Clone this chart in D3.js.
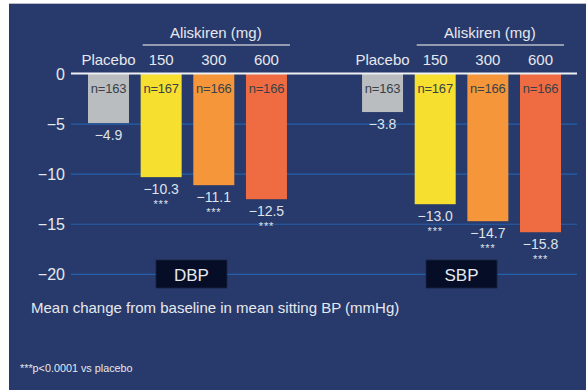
<!DOCTYPE html>
<html>
<head>
<meta charset="utf-8">
<script src="https://cdn.jsdelivr.net/npm/d3@7"></script>
<style>
  html, body { margin: 0; padding: 0; background: #ffffff; }
  svg { display: block; font-family: "Liberation Sans", Arial, sans-serif; }
</style>
</head>
<body>
<svg id="chart" width="586" height="390"></svg>
<script>
// Mean change from baseline in mean sitting blood pressure by treatment arm
const measures = ["DBP", "SBP"];
const arms = ["Placebo", "150", "300", "600"];
const dbpValues = [-4.9, -10.3, -11.1, -12.5];
const sbpValues = [-3.8, -13.0, -14.7, -15.8];
const sampleSizes = ["n=163", "n=167", "n=166", "n=166"];
const significance = ["", "***", "***", "***"];
const yTicks = [0, -5, -10, -15, -20];
const armColors = ["#b9bdbf", "#f7df2f", "#f5963b", "#ef6c42"];

const rows = [];
measures.forEach((m, mi) => {
  const vals = mi === 0 ? dbpValues : sbpValues;
  arms.forEach((a, ai) => rows.push({ measure: m, arm: a, value: vals[ai], n: sampleSizes[ai], sig: significance[ai], color: armColors[ai] }));
});

const svg = d3.select("#chart");

// Panel background
svg.append("rect").attr("x", 9).attr("y", 3).attr("width", 577).attr("height", 387).attr("fill", "#283a6b");
svg.append("line").attr("x1", 9).attr("x2", 586).attr("y1", 3.5).attr("y2", 3.5).attr("stroke", "#b8bcc6").attr("stroke-width", 1);

const y = d3.scaleLinear().domain([0, -20]).range([74, 274.3]);

const xGroup = d3.scaleBand().domain(measures).range([88, 561]).paddingInner(0.274).paddingOuter(0);
const xArm = d3.scaleBand().domain(arms).range([0, xGroup.bandwidth()]).paddingInner(0.2215).paddingOuter(0);

const gridX0 = 71, gridX1 = 577;

// Gridlines
svg.append("g").selectAll("line").data(yTicks.filter(t => t !== 0)).join("line")
  .attr("x1", gridX0).attr("x2", gridX1)
  .attr("y1", d => y(d)).attr("y2", d => y(d))
  .attr("stroke", "#2560ab").attr("stroke-width", 1.2);

// Y axis tick labels
const yAxis = d3.axisLeft(y).tickValues(yTicks).tickSize(0).tickPadding(0)
  .tickFormat(d => d === 0 ? "0" : "\u2212" + Math.abs(d));
const yg = svg.append("g").attr("transform", "translate(65,0)").call(yAxis);
yg.select(".domain").remove();
yg.selectAll("text").attr("fill", "#e6e8ee").style("font-size", "16px").style("font-family", "'Liberation Sans', Arial, sans-serif");

// Bars
const barG = svg.append("g");
barG.selectAll("rect").data(rows).join("rect")
  .attr("x", d => xGroup(d.measure) + xArm(d.arm))
  .attr("y", y(0))
  .attr("width", xArm.bandwidth())
  .attr("height", d => y(d.value) - y(0))
  .attr("fill", d => d.color);

// Zero line
svg.append("line").attr("x1", gridX0).attr("x2", gridX1).attr("y1", y(0) - 0.5).attr("y2", y(0) - 0.5)
  .attr("stroke", "#eef0f4").attr("stroke-width", 2);

const cx = d => xGroup(d.measure) + xArm(d.arm) + xArm.bandwidth() / 2;

// Sample size labels inside the bars
svg.append("g").selectAll("text").data(rows).join("text")
  .attr("x", cx).attr("y", y(0) + 19)
  .attr("text-anchor", "middle").attr("fill", "#3a3f48")
  .style("font-size", "13px").style("letter-spacing", "-0.2px")
  .text(d => d.n);

// Value labels under the bars
svg.append("g").selectAll("text").data(rows).join("text")
  .attr("x", cx).attr("y", d => y(d.value) + 17)
  .attr("text-anchor", "middle").attr("fill", "#dfe2ea")
  .style("font-size", "14px")
  .text(d => "\u2212" + Math.abs(d.value).toFixed(1));

// Significance markers
svg.append("g").selectAll("text").data(rows.filter(d => d.sig)).join("text")
  .attr("x", cx).attr("y", d => y(d.value) + 31)
  .attr("text-anchor", "middle").attr("fill", "#dfe2ea")
  .style("font-size", "11px").style("letter-spacing", "0.8px")
  .text(d => d.sig);

// Arm headers
svg.append("g").selectAll("text").data(rows).join("text")
  .attr("x", cx).attr("y", 65)
  .attr("text-anchor", "middle").attr("fill", "#e6e8ee")
  .style("font-size", "15px")
  .text(d => d.arm);

// "Aliskiren (mg)" header bracket over the active doses
measures.forEach(m => {
  const x0 = xGroup(m) + xArm("150");
  const x1 = xGroup(m) + xArm("600") + xArm.bandwidth();
  svg.append("line").attr("x1", x0 + 2).attr("x2", x1 + 3).attr("y1", 45).attr("y2", 45)
    .attr("stroke", "#b8bcc8").attr("stroke-width", 1.3);
  svg.append("text").attr("x", (x0 + x1) / 2 + 2).attr("y", 38)
    .attr("text-anchor", "middle").attr("fill", "#e6e8ee").style("font-size", "15px")
    .text("Aliskiren (mg)");
});

// Measure tags
measures.forEach(m => {
  const c = xGroup(m) + xGroup.bandwidth() / 2 + (m === "DBP" ? 4 : 0);
  svg.append("rect").attr("x", c - 35.5).attr("y", 260).attr("width", 71).attr("height", 28)
    .attr("fill", "#050d27").attr("stroke", "#1b2540").attr("stroke-width", 0.8);
  svg.append("text").attr("x", c).attr("y", 280.5)
    .attr("text-anchor", "middle").attr("fill", "#e6e8ee").style("font-size", "17px")
    .text(m);
});

// Axis caption and footnote
svg.append("text").attr("x", 31).attr("y", 313).attr("fill", "#e6e8ee").style("font-size", "15px")
  .text("Mean change from baseline in mean sitting BP (mmHg)");
svg.append("text").attr("x", 20).attr("y", 372).attr("fill", "#e6e8ee").style("font-size", "10.8px")
  .text("***p<0.0001 vs placebo");
</script>
</body>
</html>
